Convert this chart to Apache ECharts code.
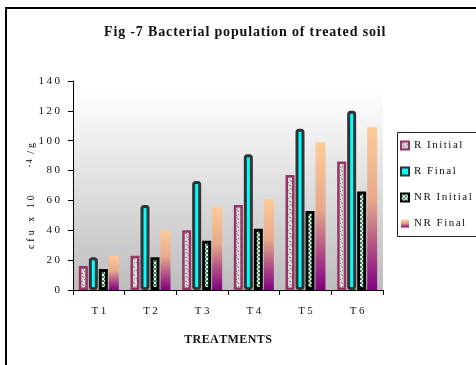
<!DOCTYPE html>
<html><head><meta charset="utf-8">
<script src="https://cdn.jsdelivr.net/npm/echarts@6/dist/echarts.min.js"></script>
<style>html,body{margin:0;padding:0;background:#fff}#c{width:476px;height:365px}</style>
</head><body><div id="c"></div>
<script>
const categories = ['T1','T2','T3','T4','T5','T6'];
const rInitial = [16, 23, 40, 57, 77, 86];
const rFinal = [22, 57, 73, 91, 108, 120];
const nrInitial = [14, 22, 33, 41, 53, 66];
const nrFinal = [23, 40, 56, 61, 99, 109];
const yTicks = [0, 20, 40, 60, 80, 100, 120, 140];

// letter-spaced rich text: each character is its own token, padded on the right
function spaced(str, style) {
  const chars = str.split('');
  return chars.map((ch, i) => '{' + (i < chars.length - 1 ? style : style + 'L') + '|' + ch + '}').join('');
}
function richPair(name, base, pad) {
  const o = {};
  o[name] = Object.assign({}, base, {padding: [0, pad, 0, 0]});
  o[name + 'L'] = Object.assign({}, base);
  return o;
}

function checker() {
  const c = document.createElement('canvas'); c.width = 4; c.height = 4;
  const x = c.getContext('2d');
  x.fillStyle = '#2e8b57'; x.fillRect(0,0,4,4);
  x.fillStyle = '#ffffff'; x.fillRect(0,0,2,2); x.fillRect(2,2,2,2);
  return c;
}
function marble() {
  const c = document.createElement('canvas'); c.width = 8; c.height = 8;
  const x = c.getContext('2d');
  x.fillStyle = '#d4d4d4'; x.fillRect(0,0,8,8);
  x.fillStyle = '#8a8a8a';
  [[1,1],[2,1],[5,2],[6,3],[2,4],[3,5],[0,6],[6,6],[4,7]].forEach(p => x.fillRect(p[0],p[1],1,1));
  x.fillStyle = '#eeeeee';
  [[3,0],[7,1],[0,3],[4,3],[7,5],[1,7],[5,5]].forEach(p => x.fillRect(p[0],p[1],1,1));
  return c;
}
const font = 'Liberation Serif';
const ink = '#111';
const titleRich = richPair('t', {fontFamily: font, fontSize: 14, fontWeight: 'bold', color: ink}, 0.85);
const tickRich = richPair('k', {fontFamily: font, fontSize: 11, color: ink}, 2.5);
const legRich = richPair('g', {fontFamily: font, fontSize: 11, color: ink}, 1.5);
const xnRich = richPair('n', {fontFamily: font, fontSize: 12, fontWeight: 'bold', color: ink}, 0.4);
const ynRich = Object.assign(
  richPair('y', {fontFamily: font, fontSize: 10, color: ink}, 3),
  richPair('s', {fontFamily: font, fontSize: 8, color: ink, verticalAlign: 'top'}, 1.5),
  {gap: {fontFamily: font, fontSize: 10, padding: [0, 28, 0, 0]}}
);
const yName = spaced('cfu x 10', 'y') + '{gap|}' + spaced('-4', 's') + spaced(' /g', 'y');

const chart = echarts.init(document.getElementById('c'), null, {renderer: 'canvas'});
chart.setOption({
  animation: false,
  backgroundColor: '#ffffff',
  title: {
    text: spaced('Fig -7 Bacterial population of treated soil', 't'),
    left: 99, top: 20,
    textStyle: {rich: titleRich}
  },
  grid: {
    left: 73, right: 93, top: 81, bottom: 75, show: true, borderWidth: 0,
    backgroundColor: {type: 'linear', x: 0, y: 0, x2: 0, y2: 1,
      colorStops: [{offset: 0, color: '#ffffff'}, {offset: 0.1, color: '#fbfbfb'}, {offset: 1, color: '#bdbdbd'}]}
  },
  legend: {
    orient: 'vertical', left: 395, top: 135, itemWidth: 8, itemHeight: 8, itemGap: 15,
    icon: 'rect',
    formatter: n => spaced(n, 'g'),
    textStyle: {rich: legRich},
    data: ['R Initial', 'R Final', 'NR Initial', 'NR Final']
  },
  xAxis: {
    type: 'category', data: categories,
    name: spaced('TREATMENTS', 'n'), nameLocation: 'middle', nameGap: 44,
    nameTextStyle: {rich: xnRich},
    axisLine: {lineStyle: {color: '#000', width: 1}},
    axisTick: {show: true, interval: 0, length: 5, lineStyle: {color: '#000'}},
    axisLabel: {interval: 0, margin: 16, formatter: v => spaced(v, 'k'), rich: tickRich}
  },
  yAxis: {
    type: 'value', min: 0, max: 140, interval: 20,
    splitLine: {show: false},
    axisLine: {show: true, lineStyle: {color: '#000', width: 1}},
    axisTick: {show: true, length: 5, lineStyle: {color: '#000'}},
    axisLabel: {margin: 13, rich: tickRich,
      formatter: v => yTicks.indexOf(v) >= 0 ? spaced(String(v), 'k') : ''}
  },
  series: [
    {name: 'R Initial', type: 'bar', data: rInitial, barWidth: 9, barGap: '11%',
      itemStyle: {color: {image: marble(), repeat: 'repeat'}, borderColor: '#993366', borderWidth: 2.5}},
    {name: 'R Final', type: 'bar', data: rFinal, barWidth: 9, barGap: '11%',
      itemStyle: {color: '#00ffff', borderColor: '#333333', borderWidth: 3, borderRadius: 2}},
    {name: 'NR Initial', type: 'bar', data: nrInitial, barWidth: 9, barGap: '11%',
      itemStyle: {color: {image: checker(), repeat: 'repeat'}, borderColor: '#000000', borderWidth: 3}},
    {name: 'NR Final', type: 'bar', data: nrFinal, barWidth: 10, barGap: '11%',
      itemStyle: {color: {type: 'linear', x: 0, y: 0, x2: 0, y2: 1,
        colorStops: [{offset: 0, color: '#ffcc99'}, {offset: 0.45, color: '#e6a88a'}, {offset: 1, color: '#800080'}]}}}
  ],
  graphic: [
    {type: 'rect', shape: {x: 6, y: 8, width: 490, height: 380}, style: {fill: null, stroke: '#000', lineWidth: 2}, silent: true},
    {type: 'rect', shape: {x: 397.5, y: 132.5, width: 100, height: 104}, style: {fill: null, stroke: '#222', lineWidth: 1}, silent: true},
    {type: 'text', x: 31, y: 196, rotation: Math.PI / 2, silent: true,
      style: {text: yName, rich: ynRich, align: 'center', verticalAlign: 'middle'}}
  ]
});
</script></body></html>
